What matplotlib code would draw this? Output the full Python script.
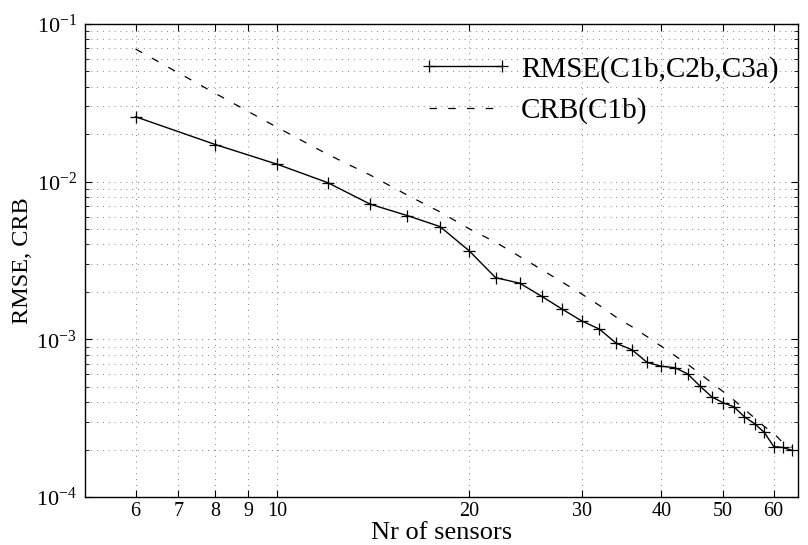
import numpy as np
import matplotlib
matplotlib.use("Agg")
import matplotlib.pyplot as plt
from matplotlib.ticker import FixedLocator, FixedFormatter, LogLocator, NullFormatter

# -----------------------------
# Data
# -----------------------------
n_sensors = [6, 8, 10, 12, 14, 16, 18, 20, 22, 24, 26, 28, 30, 32, 34,
             36, 38, 40, 42, 44, 46, 48, 50, 52, 54, 56, 58, 60, 62, 64]

rmse = [0.0258, 0.0172, 0.0129, 0.00986, 0.00719, 0.00609, 0.00519, 0.00364,
        0.00246, 0.00227, 0.00187, 0.00155, 0.00131, 0.00116, 0.000944,
        0.000857, 0.000714, 0.000675, 0.000661, 0.000603, 0.000505, 0.000431,
        0.000396, 0.000373, 0.000322, 0.000292, 0.000257, 0.000209, 0.000206,
        0.000198]

crb = [0.0694, 0.0363, 0.0221, 0.0149, 0.0110, 0.00821, 0.00643, 0.00502,
       0.00413, 0.00335, 0.00276, 0.00230, 0.00194, 0.00164, 0.00138,
       0.00120, 0.00104, 0.000903, 0.000788, 0.000695, 0.000604, 0.000529,
       0.000466, 0.000411, 0.000360, 0.000317, 0.000280, 0.000254, 0.000221,
       0.000206]

x_ticks = [6, 7, 8, 9, 10, 20, 30, 40, 50, 60]
x_tick_labels = ["6", "7", "8", "9", "10", "20", "30", "40", "50", "60"]

# -----------------------------
# Style
# -----------------------------
plt.rcParams["font.family"] = ["Liberation Serif", "DejaVu Serif"]
plt.rcParams["mathtext.fontset"] = "stix"

fig = plt.figure(figsize=(8.08, 5.45), dpi=100)
ax = fig.add_axes([0.1052, 0.0881, 0.8824, 0.8679])

ax.plot(n_sensors, rmse, color="black", lw=1.0, marker="+", markersize=8,
        markeredgewidth=0.9, label="RMSE(C1b,C2b,C3a)")
crb_line, = ax.plot(n_sensors, crb, color="black", lw=0.9, label="CRB(C1b)")
crb_line.set_dashes((6, 9))

ax.set_xscale("log")
ax.set_yscale("log")
ax.set_xlim(5, 65.5)
ax.set_ylim(1e-4, 1e-1)

ax.xaxis.set_major_locator(FixedLocator(x_ticks))
ax.xaxis.set_major_formatter(FixedFormatter(x_tick_labels))
ax.xaxis.set_minor_locator(FixedLocator([]))
ax.yaxis.set_major_locator(LogLocator(base=10))
ax.yaxis.set_minor_locator(LogLocator(base=10, subs=np.arange(2, 10)))
ax.yaxis.set_minor_formatter(NullFormatter())

ax.grid(True, which="both", color="0.35", lw=0.6, linestyle=(0, (1, 6)))

ax.tick_params(which="both", direction="in", top=True, right=True, pad=6)
ax.tick_params(axis="x", labelsize=14.5, pad=3.5)
ax.tick_params(axis="y", labelsize=16)
ax.tick_params(which="major", length=5, width=0.8)
ax.tick_params(which="minor", length=3, width=0.6)
for s in ax.spines.values():
    s.set_linewidth(1.0)

ax.set_xlabel("Nr of sensors", fontsize=19, va="baseline")
ax.xaxis.set_label_coords(0.5, -0.0885)
ax.set_ylabel("RMSE, CRB", fontsize=17.5, labelpad=2)

ax.legend(loc="upper right", frameon=False, fontsize=21, numpoints=2,
          handlelength=3.1, handletextpad=0.35, labelspacing=0.5,
          bbox_to_anchor=(0.973, 0.933), borderaxespad=0, borderpad=0)

fig.savefig("out.png", dpi=100)
